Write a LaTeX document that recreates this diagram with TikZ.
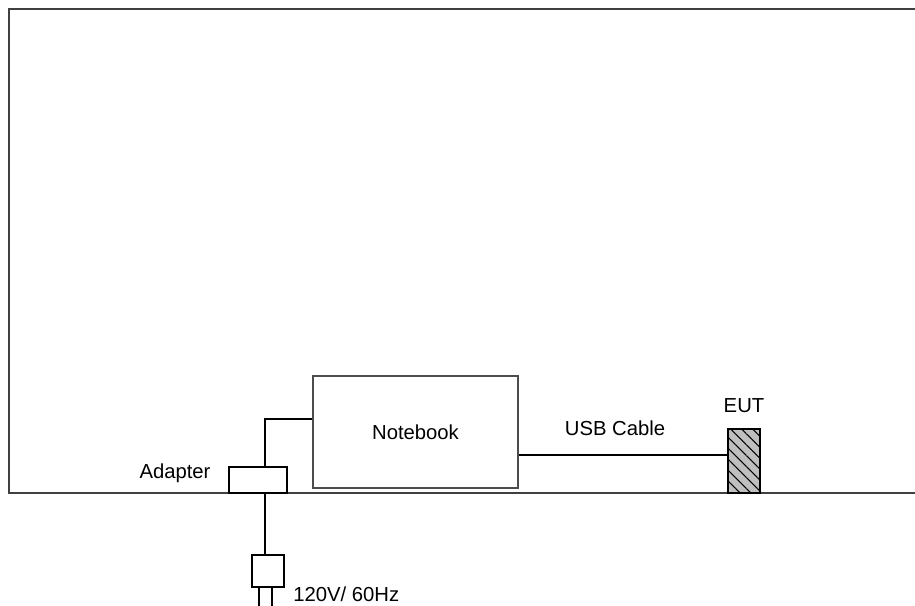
\documentclass[tikz,border=0pt]{standalone}
\usepackage{fontspec}
\setmainfont{Liberation Sans}
\usetikzlibrary{patterns.meta}
\pgfdeclarelayer{edgelayer}
\pgfdeclarelayer{nodelayer}
\pgfsetlayers{edgelayer,nodelayer,main}
\tikzstyle{edge}=[draw=black, line width=1.1pt]
\tikzstyle{frame}=[draw=black!75, line width=1.6pt]
\tikzstyle{box}=[rectangle, fill=white, draw=black, line width=1.1pt, inner sep=0pt]
\tikzstyle{lbl}=[inner sep=0pt, anchor=base, font=\fontsize{15.2}{18}\selectfont]

\begin{document}
\begin{tikzpicture}[x=0.75pt, y=-0.75pt]
				\useasboundingbox (0,0) rectangle (915,606);
				\begin{pgfonlayer}{nodelayer}
					\node [style=box, draw=black!70, line width=1.4pt, minimum width=153.75pt, minimum height=84pt, font=\fontsize{15.2}{18}\selectfont] (notebook) at (415.5,432) {Notebook};
					\node [style=box, minimum width=43.5pt, minimum height=19.5pt] (adapter) at (258,480) {};
					\node [style=box, fill=black!25, minimum width=24pt, minimum height=48pt, postaction={pattern={Lines[angle=-45, distance=5.8pt, line width=0.8pt]}}] (eut) at (744,461) {};
					\node [style=box, minimum width=24pt, minimum height=24pt] (plug) at (268,571) {};
					\node [style=lbl] (adaptertext) at (175,478) {Adapter};
					\node [style=lbl] (usbtext) at (615,435) {USB Cable};
					\node [style=lbl] (euttext) at (744,412) {EUT};
					\node [style=lbl, anchor=base west] (mains) at (293,601) {120V/ 60Hz};
				\end{pgfonlayer}
				\coordinate (tap) at (265,480);
				\coordinate (nbin) at (313,419);
				\coordinate (usbin) at (518,455);
				\coordinate (prongA) at (259,0);
				\coordinate (prongB) at (272,0);
				\coordinate (bottom) at (0,612);
				\begin{pgfonlayer}{edgelayer}
					\draw [style=frame] (920,9) -- (9,9) -- (9,493) -- (920,493);
					\draw [style=edge] (tap |- adapter.north) |- (nbin);
					\draw [style=edge] (tap |- adapter.south) -- (tap |- plug.north);
					\draw [style=edge] (usbin) -- (usbin -| eut.west);
					\draw [style=edge] (prongA |- plug.south) -- (prongA |- bottom);
					\draw [style=edge] (prongB |- plug.south) -- (prongB |- bottom);
				\end{pgfonlayer}
			\end{tikzpicture}
\end{document}
